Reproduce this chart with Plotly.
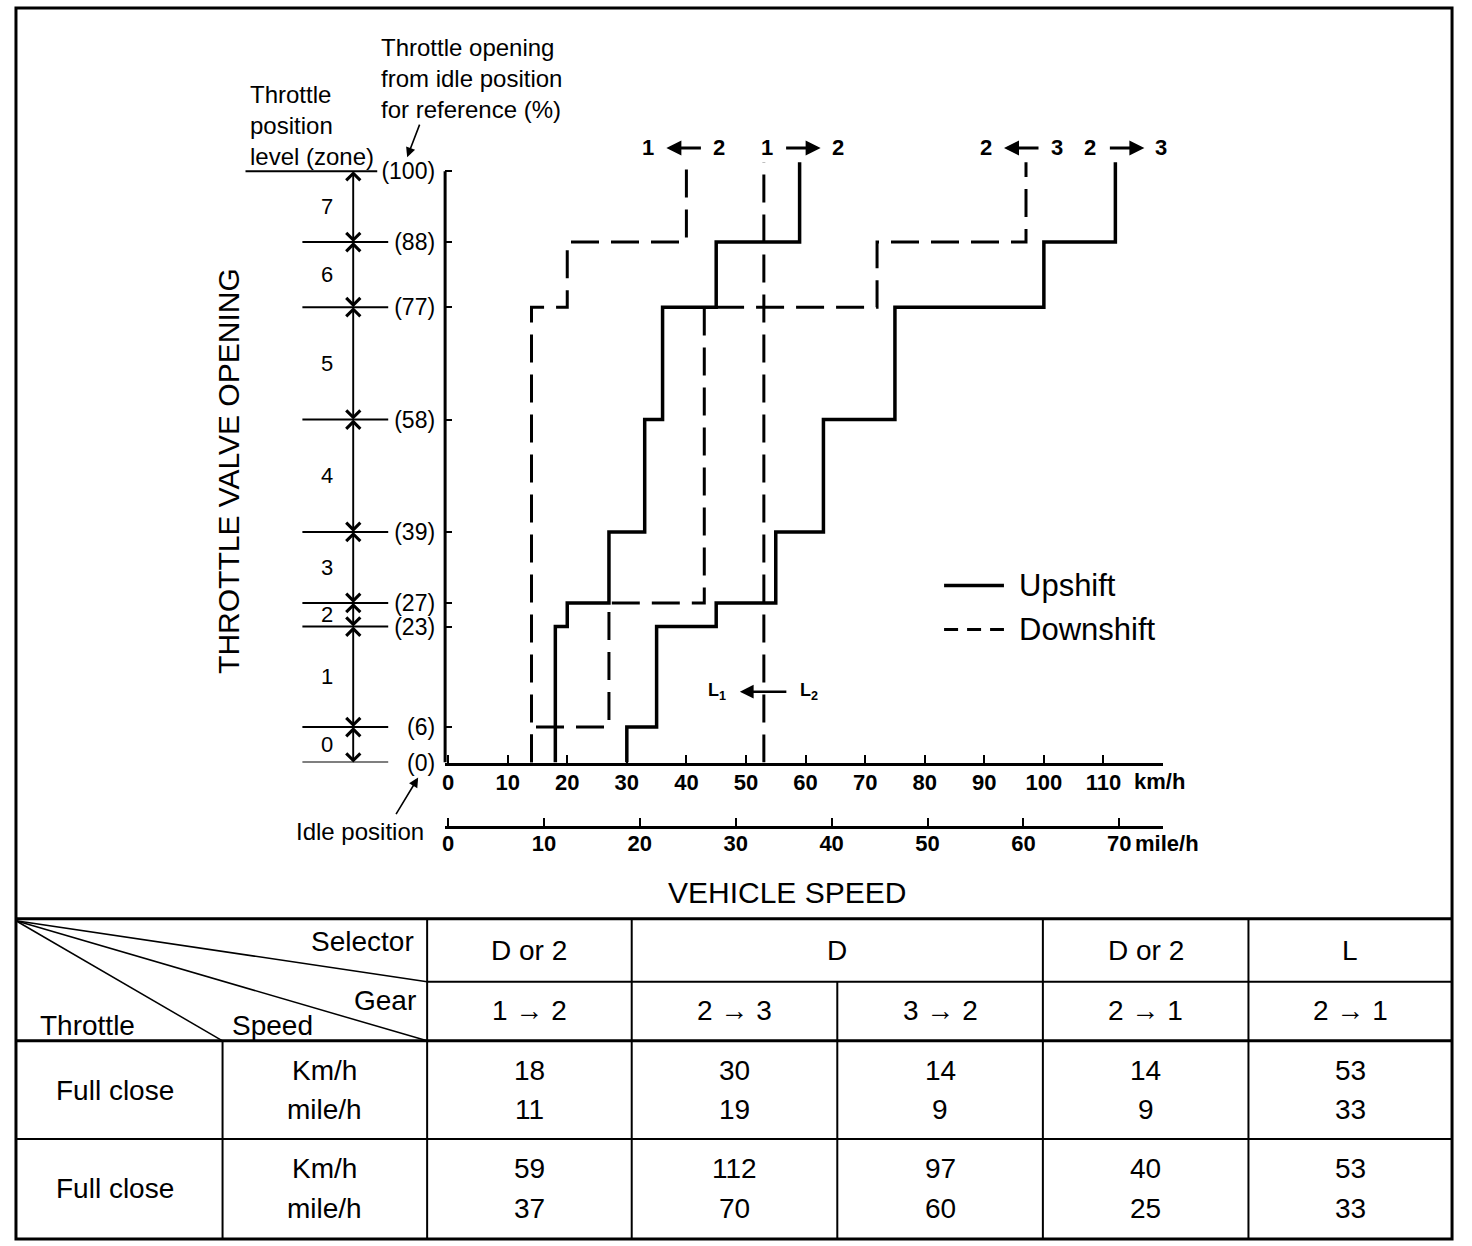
import plotly.graph_objects as go

W, H = 1472, 1246          # reference picture size (pixel coordinates below refer to it)
FIG_H = 1260               # figure height (compensates the vertical resampling of the photo)
FONT = "Liberation Sans, Arial, Helvetica, sans-serif"

# ---------------- data ----------------
throttle_levels = [0, 6, 23, 27, 39, 58, 77, 88, 100]
throttle_ticktext = ["(0)", "(6)", "(23)", "(27)", "(39)", "(58)", "(77)", "(88)", "(100)"]
zone_labels = ["0", "1", "2", "3", "4", "5", "6", "7"]

kmh_ticks = [0, 10, 20, 30, 40, 50, 60, 70, 80, 90, 100, 110]
mph_ticks = [0, 10, 20, 30, 40, 50, 60, 70]
KMH_PER_MPH = 1.609344

# step lines (line_shape 'vh': vertical first, then horizontal)
up12_speed = [18, 20, 27, 33, 36, 45, 59, 59]
up12_throttle = [0, 23, 27, 39, 58, 77, 88, 101.5]
up23_speed = [30, 35, 45, 55, 63, 75, 100, 112, 112]
up23_throttle = [0, 6, 23, 27, 39, 58, 77, 88, 101.5]
down21_speed = [14, 20, 40, 40]
down21_throttle = [0, 77, 88, 101.5]
down32_speed = [14, 27, 43, 72, 97, 97]
down32_throttle = [0, 6, 27, 77, 88, 101.5]
lshift_speed = [53, 53]
lshift_throttle = [0, 101.5]

# top labels: (lower gear, higher gear, arrow direction) at full-open shift speed
shift_label_low = ["1", "1", "2", "2"]
shift_label_high = ["2", "2", "3", "3"]
shift_label_dir = ["left", "right", "left", "right"]
shift_label_speed = [40, 59, 97, 112]

# table
selectors = ["D or 2", "D", "D or 2", "L"]
selector_spans = [1, 2, 1, 1]
gears = ["1 → 2", "2 → 3", "3 → 2", "2 → 1", "2 → 1"]
row_throttle = ["Full close", "Full close"]
close_kmh = [18, 30, 14, 14, 53]
close_mph = [11, 19, 9, 9, 33]
open_kmh = [59, 112, 97, 40, 53]
open_mph = [37, 70, 60, 25, 33]


# ---------------- helpers (pixel -> paper) ----------------
def px(x):
    return x / W


def py(y):
    return 1 - y / H


X_RANGE = [-0.5, 120]
Y_RANGE = [0, 106]
# pixel mapping: x = 446 + 5.97*kmh ; y = 762 - 5.91*pct
X_L = 446 + 5.97 * X_RANGE[0]
X_R = 446 + 5.97 * X_RANGE[1]
Y_B = 762 - 5.91 * Y_RANGE[0]
Y_T = 762 - 5.91 * Y_RANGE[1]

fig = go.Figure()

solid = dict(color="black", width=3.5)
dashed = dict(color="black", width=3, dash="28px,12px")

fig.add_trace(go.Scatter(x=up12_speed, y=up12_throttle, mode="lines", line=dict(**solid, shape="vh"),
                         name="Upshift 1→2", showlegend=False, hoverinfo="skip"))
fig.add_trace(go.Scatter(x=up23_speed, y=up23_throttle, mode="lines", line=dict(**solid, shape="vh"),
                         name="Upshift 2→3", showlegend=False, hoverinfo="skip"))
fig.add_trace(go.Scatter(x=down21_speed, y=down21_throttle, mode="lines", line=dict(**dashed, shape="vh"),
                         name="Downshift 2→1", showlegend=False, hoverinfo="skip"))
fig.add_trace(go.Scatter(x=down32_speed, y=down32_throttle, mode="lines", line=dict(**dashed, shape="vh"),
                         name="Downshift 3→2", showlegend=False, hoverinfo="skip"))
fig.add_trace(go.Scatter(x=lshift_speed, y=lshift_throttle, mode="lines", line=dict(**dashed),
                         name="L2→L1", showlegend=False, hoverinfo="skip"))
# anchor trace for the mile/h axis
fig.add_trace(go.Scatter(x=[mph_ticks[0]], y=[0], xaxis="x2", yaxis="y", mode="markers",
                         marker=dict(opacity=0), showlegend=False, hoverinfo="skip"))

shapes = []
annotations = []


def ann(**kw):
    kw.setdefault("xanchor", "center")
    kw.setdefault("yanchor", "middle")
    kw.setdefault("showarrow", False)
    annotations.append(kw)


# y axis line (0..100 only)
shapes.append(dict(type="line", xref="paper", yref="y", x0=px(X_L), x1=px(X_L),
                   y0=throttle_levels[0], y1=throttle_levels[-1], line=dict(color="black", width=3)))

# zone level lines
for lv in throttle_levels:
    if lv == throttle_levels[-1]:
        x0, x1 = 243, 375
    else:
        x0, x1 = 300, 386
    shapes.append(dict(type="line", xref="paper", yref="y", x0=px(x0), x1=px(x1), y0=lv, y1=lv,
                       line=dict(color="black", width=2)))

# zone double arrows and numbers
for i in range(len(throttle_levels) - 1):
    lo, hi = throttle_levels[i], throttle_levels[i + 1]
    for head, tail in ((hi, lo), (lo, hi)):
        ann(xref="paper", yref="y", x=px(351), y=head, axref="pixel", ax=0,
            ayref="y", ay=tail, showarrow=True, arrowhead=4, arrowsize=1.7,
            arrowwidth=1.6, arrowcolor="black", text="")
    ann(xref="paper", yref="y", x=px(325), y=(lo + hi) / 2, text=zone_labels[i], font=dict(size=22))

# top shift labels: digit, arrow, digit
label_centre_shift = [-2, 3, -4, 11]
for lo_g, hi_g, d, s, c in zip(shift_label_low, shift_label_high, shift_label_dir,
                               shift_label_speed, label_centre_shift):
    ann(xref="x", yref="paper", x=s, y=py(147), xshift=c - 36, text=lo_g, font=dict(size=22, weight="bold"))
    ann(xref="x", yref="paper", x=s, y=py(147), xshift=c + 35, text=hi_g, font=dict(size=22, weight="bold"))
    if d == "left":
        ann(xref="x", yref="paper", x=s, y=py(148), xshift=c - 18, axref="pixel", ax=36, ayref="pixel",
            ay=0, showarrow=True, arrowhead=2, arrowsize=1.0, arrowwidth=3, arrowcolor="black", text="")
    else:
        ann(xref="x", yref="paper", x=s, y=py(148), xshift=c + 18, axref="pixel", ax=-36, ayref="pixel",
            ay=0, showarrow=True, arrowhead=2, arrowsize=1.0, arrowwidth=3, arrowcolor="black", text="")

# L1 <- L2 marker
ann(xref="x", yref="y", x=lshift_speed[0], y=12, xshift=-24, axref="pixel", ax=48,
    ayref="pixel", ay=0, showarrow=True, arrowhead=2, arrowsize=1.1, arrowwidth=2.5,
    arrowcolor="black", text="")
ann(xref="x", yref="y", x=lshift_speed[0], y=12, xshift=-47, text="L<sub>1</sub>",
    font=dict(size=18, weight="bold"))
ann(xref="x", yref="y", x=lshift_speed[0], y=12, xshift=45, text="L<sub>2</sub>",
    font=dict(size=18, weight="bold"))

# axis units
ann(xref="paper", yref="paper", x=px(1131), y=py(781), xanchor="left",
    text="km/h", font=dict(size=22, weight="bold"))
ann(xref="paper", yref="paper", x=px(1132), y=py(843), xanchor="left",
    text="mile/h", font=dict(size=22, weight="bold"))

# axis titles
ann(xref="paper", yref="paper", x=px(786), y=py(892), text="VEHICLE SPEED", font=dict(size=30))
ann(xref="paper", yref="paper", x=px(226), y=py(471), text="THROTTLE VALVE OPENING",
    textangle=-90, font=dict(size=30))

# explanatory texts
ann(xref="paper", yref="paper", x=px(246), y=py(125), xanchor="left", align="left",
    text="Throttle<br>position<br>level (zone)", font=dict(size=24))
ann(xref="paper", yref="paper", x=px(377), y=py(78), xanchor="left", align="left",
    text="Throttle opening<br>from idle position<br>for reference (%)", font=dict(size=24))
ann(xref="paper", yref="paper", x=px(405), y=py(157), axref="pixel", ayref="pixel", ax=13, ay=-34,
    showarrow=True, arrowhead=2, arrowsize=1.2, arrowwidth=1.6, arrowcolor="black", text="")
ann(xref="paper", yref="paper", x=px(358), y=py(831), text="Idle position", font=dict(size=24))
ann(xref="paper", yref="paper", x=px(416), y=py(777), axref="pixel", ayref="pixel", ax=-23, ay=38,
    showarrow=True, arrowhead=2, arrowsize=1.2, arrowwidth=1.6, arrowcolor="black", text="")

# legend (drawn)
shapes.append(dict(type="line", xref="paper", yref="paper", x0=px(943), x1=px(1003), y0=py(585), y1=py(585),
                   line=dict(color="black", width=3.5)))
shapes.append(dict(type="line", xref="paper", yref="paper", x0=px(943), x1=px(1003), y0=py(629), y1=py(629),
                   line=dict(color="black", width=3, dash="14px,9px")))
ann(xref="paper", yref="paper", x=px(1016), y=py(585), xanchor="left", text="Upshift", font=dict(size=31))
ann(xref="paper", yref="paper", x=px(1016), y=py(629), xanchor="left", text="Downshift", font=dict(size=31))


# ---------------- frame and table ----------------
def pline(x0, y0, x1, y1, w=2):
    shapes.append(dict(type="line", xref="paper", yref="paper", x0=px(x0), y0=py(y0), x1=px(x1), y1=py(y1),
                       line=dict(color="black", width=w)))


shapes.append(dict(type="rect", xref="paper", yref="paper", x0=px(13), x1=px(1452), y0=py(1238), y1=py(8),
                   line=dict(color="black", width=3)))

T_TOP, T_R1, T_R2, T_R3, T_BOT = 918, 981, 1040, 1138, 1238
C_L, C_MID, C_HDR = 13, 220, 425
col_edges = [425, 630, 836, 1042, 1248, 1452]

pline(C_L, T_TOP, 1452, T_TOP, 3)
pline(C_HDR, T_R1, 1452, T_R1, 2)
pline(C_L, T_R2, 1452, T_R2, 3)
pline(C_L, T_R3, 1452, T_R3, 2)
pline(C_MID, T_R2, C_MID, T_BOT, 2)
for i, xe in enumerate(col_edges[:-1]):
    top = T_R1 if i == 2 else T_TOP
    pline(xe, top, xe, T_BOT, 2)
# diagonals in header corner
pline(C_L, T_TOP + 2, C_HDR, T_R1, 1.5)
pline(C_L, T_TOP + 2, C_HDR, T_R2, 1.5)
pline(C_L, T_TOP + 2, C_MID, T_R2, 1.5)


def ptext(x, y, t, size=28, anchor="center"):
    ann(xref="paper", yref="paper", x=px(x), y=py(y), text=t, xanchor=anchor, font=dict(size=size))


ptext(414, 941, "Selector", anchor="right")
ptext(416, 1000, "Gear", anchor="right")
ptext(85, 1025, "Throttle")
ptext(270, 1025, "Speed")

ci = 0
for sel, span in zip(selectors, selector_spans):
    xc = (col_edges[ci] + col_edges[ci + span]) / 2
    ptext(xc, 950, sel)
    ci += span

for i, g in enumerate(gears):
    xc = (col_edges[i] + col_edges[i + 1]) / 2
    ptext(xc, 1010, g)

row_y = [(1070, 1109), (1168, 1208)]
row_vals = [(close_kmh, close_mph), (open_kmh, open_mph)]
for lab, (yk, ym), (vk, vm) in zip(row_throttle, row_y, row_vals):
    ptext((C_L + C_MID) / 2 - 4, (yk + ym) / 2, lab)
    ptext((C_MID + C_HDR) / 2, yk, "Km/h")
    ptext((C_MID + C_HDR) / 2, ym, "mile/h")
    for i in range(len(vk)):
        xc = (col_edges[i] + col_edges[i + 1]) / 2
        ptext(xc, yk, str(vk[i]))
        ptext(xc, ym, str(vm[i]))

fig.update_layout(
    width=W, height=FIG_H, autosize=False,
    margin=dict(l=0, r=0, t=0, b=0),
    paper_bgcolor="white", plot_bgcolor="white",
    font=dict(family=FONT, color="black"),
    showlegend=False,
    xaxis=dict(domain=[px(X_L), px(X_R)], range=X_RANGE, tickvals=kmh_ticks,
               ticktext=[str(v) for v in kmh_ticks], ticks="inside", ticklen=8, tickwidth=2,
               tickcolor="black", showline=True, linewidth=3, linecolor="black", showgrid=False,
               zeroline=False, tickfont=dict(size=22, weight="bold"), ticklabelstandoff=-2, fixedrange=True),
    xaxis2=dict(overlaying="x", anchor="free", position=py(826), side="bottom",
                domain=[px(X_L), px(X_R)],
                range=[X_RANGE[0] / KMH_PER_MPH, X_RANGE[1] / KMH_PER_MPH], tickvals=mph_ticks,
                ticktext=[str(v) for v in mph_ticks], ticks="inside", ticklen=8, tickwidth=2,
                tickcolor="black", showline=True, linewidth=3, linecolor="black", showgrid=False,
                zeroline=False, tickfont=dict(size=22, weight="bold"), ticklabelstandoff=-4, fixedrange=True),
    yaxis=dict(domain=[py(Y_B), py(Y_T)], range=Y_RANGE, tickvals=throttle_levels, ticktext=throttle_ticktext,
               ticks="inside", ticklen=7, tickwidth=2, tickcolor="black", showline=False, showgrid=False,
               zeroline=False, tickfont=dict(size=23), ticklabelstandoff=9, fixedrange=True),
    shapes=shapes,
    annotations=annotations,
)

fig.write_html("out.html", config={"displayModeBar": False},
               post_script="document.body.style.margin='0px';")
